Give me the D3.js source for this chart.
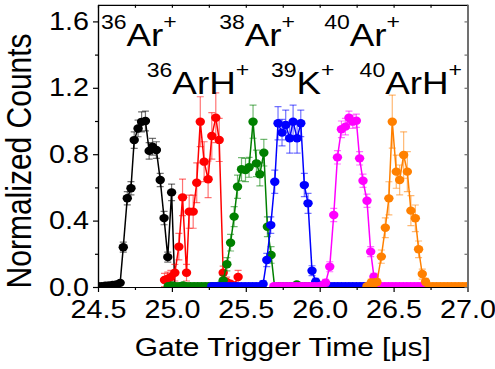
<!DOCTYPE html>
<html>
<head>
<meta charset="utf-8">
<script src="https://cdn.jsdelivr.net/npm/d3@7"></script>
<style>
body { margin: 0; background: #fff; }
text { font-family: "Liberation Sans", Arial, sans-serif; fill: #000; }
</style>
</head>
<body>
<svg id="chart" width="495" height="369"></svg>
<script>
// [gate time (us), normalized counts, error]
var ar36 = [[24.500,0.005,0],[24.525,0.005,0],[24.550,0.008,0],[24.575,0.010,0],[24.600,0.012,0],[24.625,0.015,0.01],[24.650,0.025,0.01],
    [24.671,0.240,0.03],[24.698,0.535,0.04],[24.723,0.595,0.04],[24.745,0.885,0.05],[24.771,0.955,0.05],[24.795,0.995,0.06],
    [24.821,1.000,0.06],[24.846,0.820,0.05],[24.869,0.845,0.05],[24.895,0.825,0.05],[24.921,0.645,0.04],[24.947,0.415,0.04],
    [24.972,0.180,0.03],[24.998,0.570,0.05],[25.020,0.000,0]];

var arh36 = [[24.950,0.042,0.04],[24.972,0.050,0.04],[24.993,0.060,0.04],[25.020,0.086,0.05],[25.047,0.243,0.08],[25.072,0.540,0.11],
    [25.099,0.086,0.05],[25.117,0.454,0.10],[25.144,0.454,0.10],[25.168,0.628,0.12],[25.192,0.996,0.15],[25.218,0.755,0.12],
    [25.245,0.649,0.11],[25.270,0.910,0.14],[25.297,1.020,0.15],[25.320,0.886,0.13],[25.347,0.086,0.04],[25.370,0.030,0.03],
    [25.393,0.020,0.02],[25.420,0.010,0.02],[25.448,0.060,0.04]];

var ar38 = [[24.975,0.005,0],[25.000,0.010,0],[25.025,0.005,0],[25.050,0.005,0],[25.075,0.010,0],[25.100,0.005,0],[25.125,0.005,0],
    [25.150,0.005,0],[25.175,0.005,0],[25.200,0.005,0],[25.225,0.005,0],[25.250,0.005,0],[25.275,0.005,0],[25.300,0.005,0],
    [25.325,0.010,0],[25.347,0.040,0.03],[25.372,0.137,0.04],[25.397,0.267,0.05],[25.421,0.424,0.06],[25.444,0.604,0.07],
    [25.471,0.709,0.07],[25.498,0.705,0.07],[25.522,0.721,0.06],[25.549,0.996,0.10],[25.572,0.745,0.08],[25.595,0.679,0.07],
    [25.622,0.809,0.08],[25.646,0.363,0.06],[25.671,0.193,0.05],[25.695,0.000,0],[25.720,0.005,0],[25.745,0.005,0],
    [25.770,0.005,0],[25.795,0.005,0],[25.820,0.005,0],[25.845,0.015,0],[25.870,0.005,0],[25.895,0.005,0],[25.920,0.005,0],
    [25.945,0.005,0],[25.970,0.005,0],[25.995,0.005,0]];

var k39 = [[25.270,0.005,0],[25.295,0.005,0],[25.320,0.005,0],[25.345,0.005,0],[25.370,0.005,0],[25.395,0.005,0],[25.420,0.005,0],
    [25.445,0.005,0],[25.470,0.005,0],[25.495,0.005,0],[25.520,0.005,0],[25.545,0.005,0],[25.570,0.005,0],[25.595,0.005,0],
    [25.617,0.018,0.02],[25.642,0.163,0.04],[25.669,0.373,0.05],[25.696,0.634,0.07],[25.718,0.986,0.10],[25.745,0.930,0.08],
    [25.770,0.976,0.09],[25.797,0.896,0.09],[25.820,0.996,0.10],[25.847,0.896,0.09],[25.872,0.986,0.08],[25.896,0.614,0.07],
    [25.921,0.504,0.06],[25.948,0.098,0.03],[25.973,0.032,0.02],[25.998,0.010,0],[26.023,0.005,0],[26.048,0.005,0],
    [26.073,0.005,0],[26.098,0.005,0],[26.123,0.005,0],[26.148,0.005,0],[26.173,0.005,0],[26.198,0.005,0],[26.223,0.005,0],
    [26.248,0.005,0],[26.273,0.005,0],[26.298,0.005,0],[26.323,0.005,0]];

var ar40 = [[25.690,0.005,0],[25.715,0.005,0],[25.740,0.005,0],[25.765,0.005,0],[25.790,0.005,0],[25.815,0.005,0],[25.840,0.005,0],
    [25.865,0.005,0],[25.890,0.005,0],[25.915,0.005,0],[25.940,0.005,0],[25.965,0.005,0],[25.990,0.005,0],[26.015,0.010,0],
    [26.040,0.026,0.02],[26.068,0.122,0.03],[26.095,0.434,0.04],[26.120,0.781,0.04],[26.147,0.950,0.05],[26.174,0.966,0.05],
    [26.198,1.020,0.04],[26.223,0.996,0.04],[26.248,1.002,0.04],[26.270,0.775,0.04],[26.293,0.640,0.04],[26.320,0.520,0.04],
    [26.345,0.213,0.03],[26.367,0.062,0.02],[26.390,0.005,0],[26.415,0.005,0],[26.440,0.005,0],[26.465,0.005,0],[26.490,0.005,0],
    [26.515,0.005,0],[26.540,0.005,0],[26.565,0.005,0],[26.590,0.005,0],[26.615,0.005,0],[26.640,0.005,0],[26.665,0.005,0],
    [26.690,0.005,0],[26.715,0.005,0]];

var arh40 = [[26.320,0.005,0],[26.349,0.028,0.02],[26.367,0.020,0.02],[26.387,0.030,0.02],[26.417,0.183,0.04],[26.444,0.357,0.06],
    [26.468,0.534,0.10],[26.491,0.996,0.16],[26.518,0.695,0.10],[26.541,0.645,0.09],[26.568,0.795,0.14],[26.593,0.695,0.12],
    [26.617,0.460,0.09],[26.647,0.414,0.08],[26.669,0.227,0.05],[26.694,0.078,0.03],[26.716,0.032,0.02],[26.741,0.005,0],
    [26.766,0.005,0],[26.791,0.005,0],[26.816,0.005,0],[26.841,0.005,0],[26.866,0.005,0],[26.891,0.005,0],[26.916,0.005,0],
    [26.941,0.005,0],[26.966,0.005,0],[26.991,0.005,0]];

var xTicks = [24.5, 25.0, 25.5, 26.0, 26.5, 27.0];
var xMinor = [24.75, 25.25, 25.75, 26.25, 26.75];
var yTicks = [0.0, 0.4, 0.8, 1.2, 1.6];
var yMinor = [0.2, 0.6, 1.0, 1.4];

// ion labels: [mass number, symbol, row]
var ionLabels = [["36","Ar",0],["38","Ar",0],["40","Ar",0],["36","ArH",1],["39","K",1],["40","ArH",1]];
var ionLabelX = [24.52, 25.32, 26.03, 24.83, 25.67, 26.27];

var width = 495, height = 369,
    margins = {left: 98, right: 27.5, top: 4.8, bottom: 82},
    stretch = 1.15;

var series = [
    {data: ar36, color: "#000000"},
    {data: arh36, color: "#ff0000"},
    {data: ar38, color: "#008000"},
    {data: k39, color: "#0000ff"},
    {data: ar40, color: "#ff00ff"},
    {data: arh40, color: "#ff8000"}
];

var svg = d3.select("#chart");

var xScale = d3.scaleLinear().domain([24.5, 27.0]).range([margins.left, width - margins.right]);
var yScale = d3.scaleLinear().domain([0, 1.7]).range([height - margins.bottom, margins.top]);

svg.append("clipPath").attr("id", "plotClip")
    .append("rect")
    .attr("x", margins.left)
    .attr("y", margins.top)
    .attr("width", width - margins.left - margins.right)
    .attr("height", height - margins.top - margins.bottom);

var plot = svg.append("g").attr("clip-path", "url(#plotClip)");

var line = d3.line()
    .x(d => xScale(d[0]))
    .y(d => yScale(d[1]));

series.forEach(function(s) {
    var g = plot.append("g");

    g.append("path")
        .attr("fill", "none")
        .attr("stroke", s.color)
        .attr("stroke-width", 1.5)
        .attr("d", line(s.data));

    var bars = g.selectAll(".err")
        .data(s.data.filter(d => d[2] > 0))
        .enter().append("g")
        .attr("stroke", s.color)
        .attr("stroke-opacity", 0.55)
        .attr("stroke-width", 1.2);

    bars.append("line")
        .attr("x1", d => xScale(d[0])).attr("x2", d => xScale(d[0]))
        .attr("y1", d => yScale(d[1] - d[2])).attr("y2", d => yScale(d[1] + d[2]));
    bars.append("line")
        .attr("x1", d => xScale(d[0]) - 3.5).attr("x2", d => xScale(d[0]) + 3.5)
        .attr("y1", d => yScale(d[1] + d[2])).attr("y2", d => yScale(d[1] + d[2]));
    bars.append("line")
        .attr("x1", d => xScale(d[0]) - 3.5).attr("x2", d => xScale(d[0]) + 3.5)
        .attr("y1", d => yScale(d[1] - d[2])).attr("y2", d => yScale(d[1] - d[2]));

    g.selectAll("ellipse")
        .data(s.data)
        .enter().append("ellipse")
        .attr("cx", d => xScale(d[0]))
        .attr("cy", d => yScale(d[1]))
        .attr("rx", 4.7)
        .attr("ry", 4.2)
        .attr("fill", s.color);
});

// axes
var xAxis = svg.append("g")
    .attr("transform", "translate(0," + (height - margins.bottom) + ")")
    .call(d3.axisBottom(xScale).tickValues(xTicks).tickFormat(d3.format(".1f")).tickSizeInner(5).tickSizeOuter(0).tickPadding(8));
svg.append("g")
    .attr("transform", "translate(0," + (height - margins.bottom) + ")")
    .call(d3.axisBottom(xScale).tickValues(xMinor).tickFormat("").tickSizeInner(3).tickSizeOuter(0));

var yAxis = svg.append("g")
    .attr("transform", "translate(" + margins.left + ",0)")
    .call(d3.axisLeft(yScale).tickValues(yTicks).tickFormat(d3.format(".1f")).tickSizeInner(5).tickSizeOuter(0).tickPadding(4));
svg.append("g")
    .attr("transform", "translate(" + margins.left + ",0)")
    .call(d3.axisLeft(yScale).tickValues(yMinor).tickFormat("").tickSizeInner(3).tickSizeOuter(0));

// mirrored top and right
svg.append("g")
    .attr("transform", "translate(0," + margins.top + ")")
    .call(d3.axisBottom(xScale).tickValues(xTicks.concat(xMinor)).tickFormat("").tickSizeInner(3).tickSizeOuter(0));
var rightAxis = svg.append("g")
    .attr("transform", "translate(" + (width - margins.right) + ",0)")
    .call(d3.axisLeft(yScale).tickValues(yTicks.concat(yMinor)).tickFormat("").tickSizeInner(3).tickSizeOuter(0));

svg.selectAll(".domain").attr("stroke", "#000").attr("stroke-width", 1.2);
svg.selectAll(".tick line").attr("stroke", "#000").attr("stroke-width", 1.2);
rightAxis.selectAll(".domain").attr("stroke", "#707070").attr("stroke-width", 2);
rightAxis.selectAll(".tick line").attr("stroke", "#707070");

svg.selectAll(".tick text")
    .style("font-family", "'Liberation Sans', Arial, sans-serif")
    .style("font-size", "25px")
    .attr("fill", "#000");

// stretch tick labels horizontally about their anchors
xAxis.selectAll(".tick text").attr("transform", "scale(" + stretch + ",1)");
yAxis.selectAll(".tick text").each(function() {
    var t = d3.select(this);
    t.attr("x", +t.attr("x") / stretch).attr("transform", "scale(" + stretch + ",1)");
});

// axis titles
svg.append("text")
    .attr("transform", "translate(" + ((margins.left + width - margins.right) / 2) + ",356) scale(" + stretch + ",1)")
    .attr("text-anchor", "middle")
    .style("font-size", "26px")
    .text("Gate Trigger Time [\u03bcs]");

svg.append("text")
    .attr("transform", "translate(31," + ((margins.top + height - margins.bottom) / 2 + 15) + ") scale(" + stretch + ",1) rotate(-90)")
    .attr("text-anchor", "middle")
    .style("font-size", "30px")
    .text("Normalized Counts");

// ion labels
var rowY = [1.45, 1.165];
ionLabels.forEach(function(l, i) {
    var t = svg.append("text")
        .attr("transform", "translate(" + xScale(ionLabelX[i]) + "," + yScale(rowY[l[2]]) + ") scale(" + stretch + ",1)");
    t.append("tspan").style("font-size", "20px").attr("dy", -17).text(l[0]);
    t.append("tspan").style("font-size", "32px").attr("dy", 17).text(l[1]);
    t.append("tspan").style("font-size", "20px").attr("dy", -17).text("+");
});
</script>
</body>
</html>
